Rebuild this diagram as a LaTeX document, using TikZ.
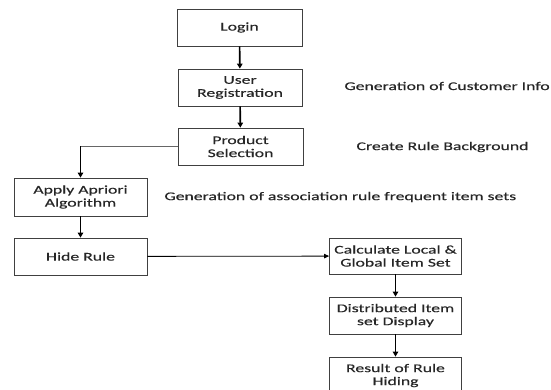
\documentclass[tikz,border=0pt]{standalone}
\usepackage{fontspec}
\setmainfont[FakeStretch=1.5,FakeBold=0.35]{Carlito}
\usetikzlibrary{arrows.meta}
\begin{document}
\begin{tikzpicture}[
            x=1pt, y=-1pt,
            font=\fontsize{11.8}{13}\selectfont,
            fc box/.style   ={draw=black!75, line width=0.8pt, align=center, inner sep=0pt,
                              text=black!85},
            fc step/.style  ={line width=1.6pt, -{Triangle[length=5pt,width=5.5pt]}},
            fc link/.style  ={line width=0.8pt, -{Triangle[length=5pt,width=4.5pt]}},
            fc note/.style  ={anchor=west, text=black!85}
        ]
        \useasboundingbox (0,0) rectangle (551,390);
        \clip (0,0) rectangle (551,390);
        %% --- main column -----------------------------------------------------
        \node[fc box, minimum width=125pt, minimum height=37pt] (login)   at (239.5,27.5)  {Login};
        \node[fc box, minimum width=124pt, minimum height=37pt] (reg)     at (240,87.5)    {User\\Registration};
        \node[fc box, minimum width=125pt, minimum height=37pt] (prod)    at (240.5,146.5) {Product\\Selection};
        %% --- left column -----------------------------------------------------
        \node[fc box, minimum width=133pt, minimum height=38pt] (apriori) at (80.5,197)    {Apply Apriori\\Algorithm};
        \node[fc box, minimum width=133pt, minimum height=37pt] (hide)    at (80.5,256.5)  {Hide Rule};
        %% --- right column ----------------------------------------------------
        \node[fc box, minimum width=132pt, minimum height=36pt] (calc)    at (395.5,256)   {Calculate Local \&\\Global Item Set};
        \node[fc box, minimum width=132pt, minimum height=37pt] (dist)    at (395.5,315.5) {Distributed Item\\set Display};
        \node[fc box, minimum width=132pt, minimum height=37pt] (result)  at (395.5,375.5) {Result of Rule\\Hiding};
        %% --- notes -----------------------------------------------------------
        \node[fc note] (noteinfo) at (341,86)  {Generation of Customer Info};
        \node[fc note] (noterule) at (353,147) {Create Rule Background};
        \node[fc note] (noteset)  at (161,197) {Generation of association rule frequent item sets};
        %% --- connectors ------------------------------------------------------
        \draw[fc step] (login) -- (reg);
        \draw[fc step] (reg) -- (prod);
        \coordinate (turn) at (apriori.north |- prod.west);
        \draw[line width=0.8pt, black!60] (prod.west) -- (turn);
        \draw[fc step] (turn) -- (apriori);
        \draw[fc step] (apriori) -- (hide);
        \draw[fc link] (hide) -- (calc);
        \draw[fc step] (calc) -- (dist);
        \draw[fc step] (dist) -- (result);
    \end{tikzpicture}
\end{document}
